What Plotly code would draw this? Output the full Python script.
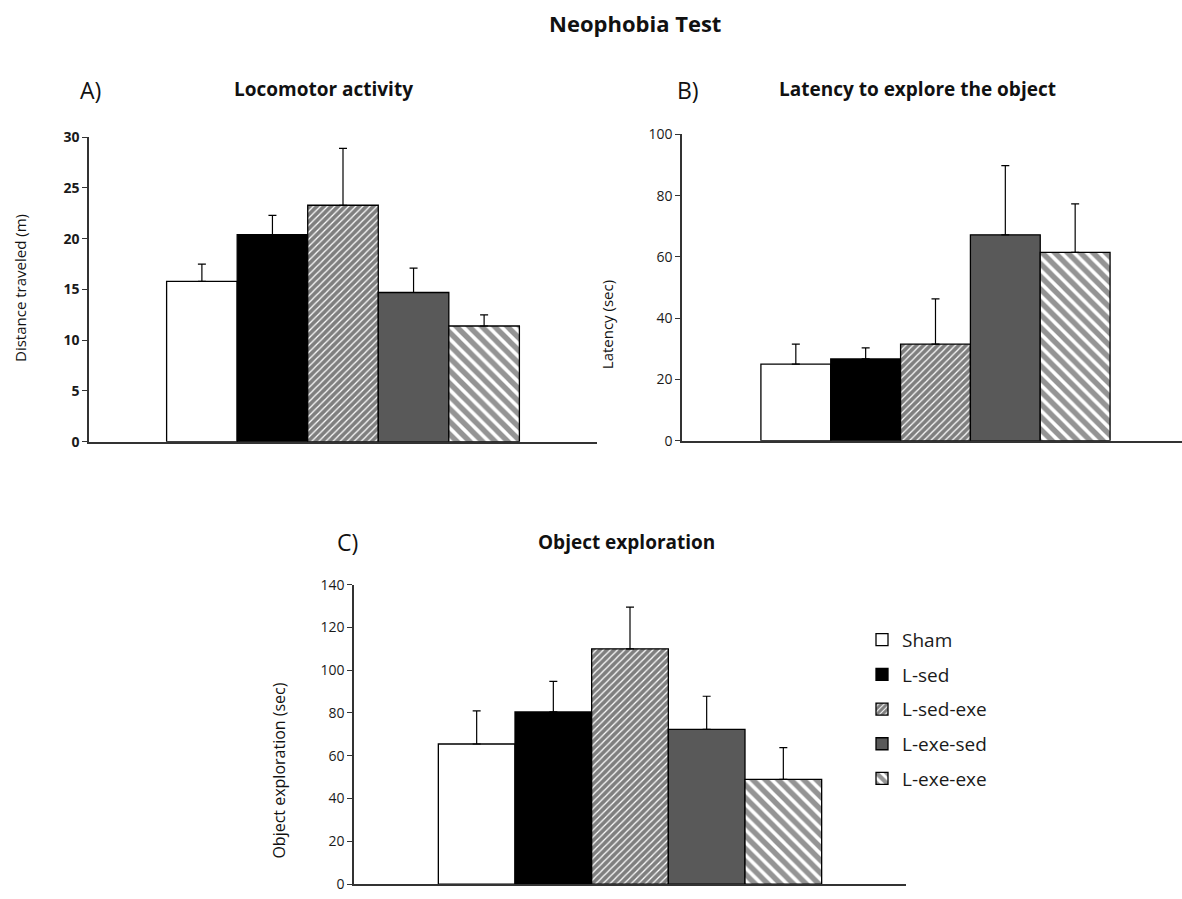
import plotly.graph_objects as go

groups = ["Sham", "L-sed", "L-sed-exe", "L-exe-sed", "L-exe-exe"]

loco_mean = [15.8, 20.4, 23.3, 14.7, 11.4]
loco_err = [1.7, 1.9, 5.6, 2.4, 1.1]

lat_mean = [25.0, 26.7, 31.5, 67.2, 61.5]
lat_err = [6.5, 3.6, 14.8, 22.6, 15.8]

expl_mean = [65.5, 80.5, 110.0, 72.3, 49.0]
expl_err = [15.5, 14.3, 19.5, 15.5, 14.8]

loco_ticks = [0, 5, 10, 15, 20, 25, 30]
lat_ticks = [0, 20, 40, 60, 80, 100]
expl_ticks = [0, 20, 40, 60, 80, 100, 120, 140]

styles = [
    dict(color="white"),
    dict(color="black"),
    dict(color="white", pattern=dict(shape="/", fgcolor="black", bgcolor="white", size=5, solidity=0.75)),
    dict(color="#595959"),
    dict(color="white", pattern=dict(shape="\\", fgcolor="#2a2a2a", bgcolor="white", size=9, solidity=0.6)),
]

FONT = "Open Sans"
W, H = 1182, 899

fig = go.Figure()

panels = [
    ("x", "y", loco_mean, loco_err),
    ("x2", "y2", lat_mean, lat_err),
    ("x3", "y3", expl_mean, expl_err),
]

for pi, (xa, ya, means, errs) in enumerate(panels):
    for i, g in enumerate(groups):
        st = styles[i]
        marker = dict(color=st["color"], line=dict(color="black", width=1.3))
        if "pattern" in st:
            marker["pattern"] = st["pattern"]
        fig.add_trace(go.Bar(
            x=[i], y=[means[i]], width=1, name=g,
            xaxis=xa, yaxis=ya, marker=marker,
            error_y=dict(type="data", array=[errs[i]], arrayminus=[0], symmetric=False,
                         color="black", thickness=1.2, width=4),
            showlegend=(pi == 2), legendgroup=g,
        ))

axis_line = dict(showline=True, linecolor="#333333", linewidth=1.5, showgrid=False, zeroline=False)

def px_x(p):
    return p / W

def px_y(p):
    return 1 - p / H

fig.update_layout(
    width=W, height=H,
    margin=dict(l=0, r=0, t=0, b=0),
    paper_bgcolor="white", plot_bgcolor="white",
    barmode="overlay",
    font=dict(family=FONT, color="#1a1a1a"),
    xaxis=dict(domain=[px_x(89), px_x(597)], range=[-1.6, 5.6], showticklabels=False, ticks="", anchor="y", **axis_line),
    yaxis=dict(domain=[px_y(441), px_y(130)], range=[0, 30], tickvals=loco_ticks, ticks="outside", ticklen=5,
               tickcolor="#333333", tickfont=dict(size=14, family=FONT, color="#1a1a1a", weight="bold"),
               anchor="x", **axis_line),
    xaxis2=dict(domain=[px_x(682), 1.0], range=[-1.63, 5.53], showticklabels=False, ticks="", anchor="y2", **axis_line),
    yaxis2=dict(domain=[px_y(440), px_y(127)], range=[0, 100], tickvals=lat_ticks, ticks="outside", ticklen=5,
                tickcolor="#333333", tickfont=dict(size=14, family=FONT, color="#1a1a1a"),
                anchor="x2", **axis_line),
    xaxis3=dict(domain=[px_x(354), px_x(906)], range=[-1.6, 5.6], showticklabels=False, ticks="", anchor="y3", **axis_line),
    yaxis3=dict(domain=[px_y(893), px_y(587)], range=[0, 140], tickvals=expl_ticks, ticks="outside", ticklen=5,
                tickcolor="#333333", tickfont=dict(size=14, family=FONT, color="#1a1a1a"),
                anchor="x3", **axis_line),
    legend=dict(x=px_x(862), y=px_y(624), xanchor="left", yanchor="top",
                font=dict(size=19, family=FONT, color="#1a1a1a"),
                tracegroupgap=7, bgcolor="rgba(0,0,0,0)", itemclick=False),
)

def ann(text, x, y, size, bold=False, angle=0):
    fig.add_annotation(text=f"<b>{text}</b>" if bold else text,
                       x=px_x(x), y=px_y(y), xref="paper", yref="paper",
                       showarrow=False, textangle=angle, xanchor="center", yanchor="middle",
                       font=dict(size=size, family=FONT, color="#111111"))

ann("Neophobia Test", 635, 13, 22, bold=True)
ann("Locomotor activity", 323, 81, 19, bold=True)
ann("Latency to explore the object", 917, 81, 19, bold=True)
ann("Object exploration", 626, 543, 19, bold=True)
ann("A)", 90, 82, 23)
ann("B)", 688, 82, 23)
ann("C)", 347, 543, 23)
ann("Distance traveled (m)", 20, 284, 15, angle=-90)
ann("Latency (sec)", 607, 322, 15, angle=-90)
ann("Object exploration (sec)", 279, 777, 16, angle=-90)

fig.write_html("out.html")
